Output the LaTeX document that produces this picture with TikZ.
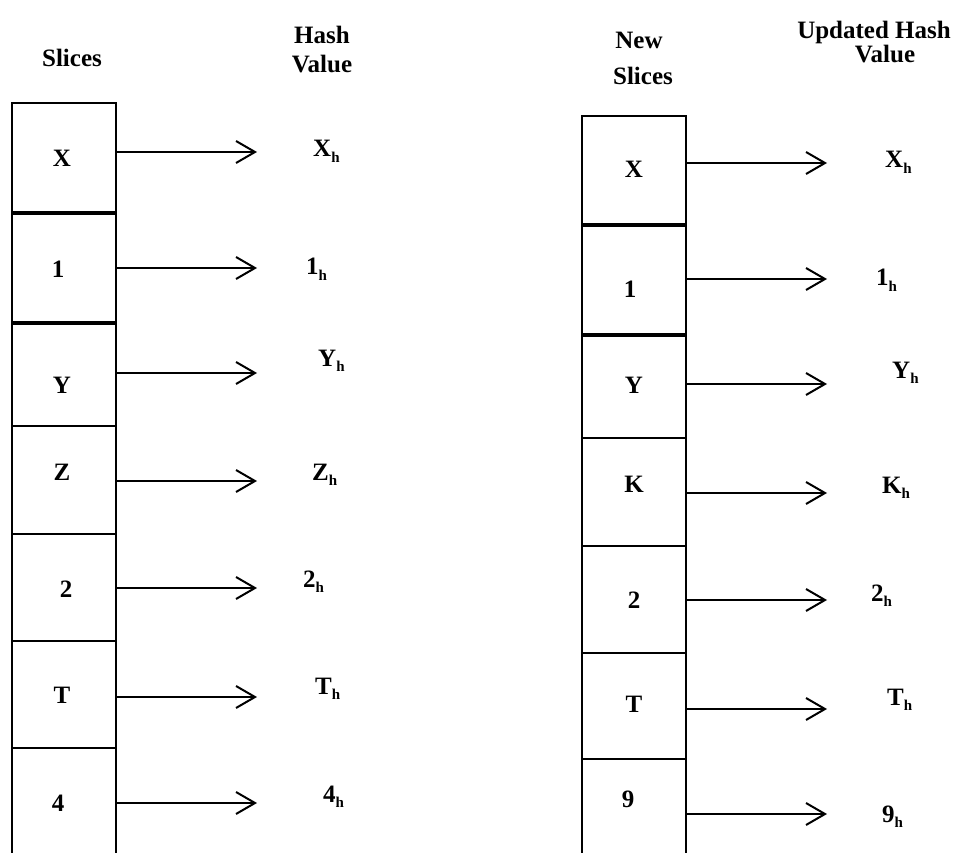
\documentclass[tikz,border=0pt]{standalone}
\usepackage{fontspec}
\setmainfont{Liberation Serif}
\usetikzlibrary{arrows.meta}
\newcommand\hsb{\raisebox{-0.22em}{\fontsize{15}{15}\selectfont h}}
\tikzset{
  cell/.style={draw, line width=2pt, minimum width=104pt, inner sep=0pt, anchor=north west},
  lab/.style={font=\fontsize{25}{28}\selectfont\bfseries, inner sep=0pt, anchor=base},
  hv/.style={font=\fontsize{25}{28}\selectfont\bfseries, inner sep=0pt, anchor=base west},
  arr/.style={line width=2pt, -{Straight Barb[length=19pt,width=22pt,line width=2pt]}},
  thickdiv/.style={line width=3.5pt}
}
\begin{document}
\begin{tikzpicture}[x=1pt,y=-1pt]
\clip (0,0) rectangle (959,853);
\fill[white] (0,0) rectangle (959,853);
% headers
\node[lab] (hs) at (72,67) {Slices};
\node[lab] (hh1) at (322,44) {Hash};
\node[lab] (hh2) at (322,73) {Value};
\node[lab] (hn1) at (639,49) {New};
\node[lab] (hn2) at (643,85) {Slices};
\node[lab] (hu1) at (874,39) {Updated Hash};
\node[lab] (hu2) at (885,63) {Value};
% left cells
\node[cell, minimum height=109pt] (L1) at (11,102) {};
\node[cell, minimum height=110pt] (L2) at (11,211) {};
\node[cell, minimum height=104pt] (L3) at (11,321) {};
\node[cell, minimum height=108pt] (L4) at (11,425) {};
\node[cell, minimum height=107pt] (L5) at (11,533) {};
\node[cell, minimum height=107pt] (L6) at (11,640) {};
\node[cell, minimum height=120pt] (L7) at (11,747) {};
\draw[thickdiv] (L1.south west) -- (L1.south east);
\draw[thickdiv] (L2.south west) -- (L2.south east);
% right cells
\node[cell, minimum height=108pt] (R1) at (581,115) {};
\node[cell, minimum height=110pt] (R2) at (581,223) {};
\node[cell, minimum height=104pt] (R3) at (581,333) {};
\node[cell, minimum height=108pt] (R4) at (581,437) {};
\node[cell, minimum height=107pt] (R5) at (581,545) {};
\node[cell, minimum height=106pt] (R6) at (581,652) {};
\node[cell, minimum height=120pt] (R7) at (581,758) {};
\draw[thickdiv] (R1.south west) -- (R1.south east);
\draw[thickdiv] (R2.south west) -- (R2.south east);
% left cell labels
\node[lab] (l1) at (62,167) {X};
\node[lab] (l2) at (58,277) {1};
\node[lab] (l3) at (62,393) {Y};
\node[lab] (l4) at (62,480) {Z};
\node[lab] (l5) at (66,597) {2};
\node[lab] (l6) at (62,703) {T};
\node[lab] (l7) at (58,811) {4};
% right cell labels
\node[lab] (r1) at (634,178) {X};
\node[lab] (r2) at (630,298) {1};
\node[lab] (r3) at (634,393) {Y};
\node[lab] (r4) at (634,492) {K};
\node[lab] (r5) at (634,608) {2};
\node[lab] (r6) at (634,712) {T};
\node[lab] (r7) at (628,807) {9};
% left hash values
\node[hv] (lh1) at (313,157) {X\hsb};
\node[hv] (lh2) at (306,275) {1\hsb};
\node[hv] (lh3) at (318,366) {Y\hsb};
\node[hv] (lh4) at (312,480) {Z\hsb};
\node[hv] (lh5) at (303,587) {2\hsb};
\node[hv] (lh6) at (315,694) {T\hsb};
\node[hv] (lh7) at (323,802) {4\hsb};
% right hash values
\node[hv] (rh1) at (885,168) {X\hsb};
\node[hv] (rh2) at (876,286) {1\hsb};
\node[hv] (rh3) at (892,378) {Y\hsb};
\node[hv] (rh4) at (882,493) {K\hsb};
\node[hv] (rh5) at (871,601) {2\hsb};
\node[hv] (rh6) at (887,705) {T\hsb};
\node[hv] (rh7) at (882,822) {9\hsb};
% arrow tips
\coordinate (lt1) at (257,152);
\coordinate (lt2) at (257,268);
\coordinate (lt3) at (257,373);
\coordinate (lt4) at (257,481);
\coordinate (lt5) at (257,588);
\coordinate (lt6) at (257,697);
\coordinate (lt7) at (257,803);
\coordinate (rt1) at (827,163);
\coordinate (rt2) at (827,279);
\coordinate (rt3) at (827,384);
\coordinate (rt4) at (827,493);
\coordinate (rt5) at (827,600);
\coordinate (rt6) at (827,709);
\coordinate (rt7) at (827,814);
\foreach \i in {1,...,7}{
  \draw[arr] (L\i.east |- lt\i) -- (lt\i);
  \draw[arr] (R\i.east |- rt\i) -- (rt\i);
}
\end{tikzpicture}
\end{document}
